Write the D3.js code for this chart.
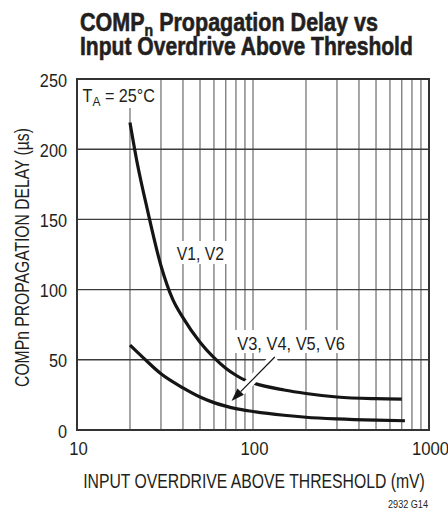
<!DOCTYPE html>
<html>
<head>
<meta charset="utf-8">
<script src="https://cdn.jsdelivr.net/npm/d3@7"></script>
<style>
  html, body { margin: 0; padding: 0; background: #fff; }
  svg { display: block; }
  text { font-family: "Liberation Sans", Arial, Helvetica, sans-serif; fill: #231f20; }
</style>
</head>
<body>
<svg id="chart" width="448" height="513"></svg>
<script>
// ---- data ----
const overdriveV12 = [20, 22, 25, 30, 35, 40, 50, 60, 70, 80, 90, 100, 150, 200, 300, 500, 700];
const delayV12     = [219, 190, 158, 117, 93, 80, 62.5, 51.5, 44, 39, 35.5, 33.5, 28.5, 26, 23.5, 22.3, 22];
const overdriveV36 = [20, 24, 30, 40, 50, 60, 70, 80, 100, 150, 200, 300, 500, 730];
const delayV36     = [60.5, 51, 40, 30, 23.5, 19.5, 17, 15.2, 13.2, 10.5, 9.1, 7.9, 7, 6.6];
const xTickValues  = [10, 100, 1000];
const xTickLabels  = ["10", "100", "1000"];
const xGridValues  = [20, 30, 40, 50, 60, 70, 80, 90, 100, 200, 300, 400, 500, 600, 700, 800, 900];
const yTickValues  = [0, 50, 100, 150, 200, 250];
const yGridValues  = [50, 100, 150, 200];
const seriesLabels = ["V1, V2", "V3, V4, V5, V6"];

const svg = d3.select("#chart");
const pL = 77, pR = 429, pT = 79, pB = 430;
const x = d3.scaleLog().domain([10, 1000]).range([pL, pR]);
const y = d3.scaleLinear().domain([0, 250]).range([pB, pT]);

// helper: draw text and squeeze horizontally to a condensed width
function condensed(parent, opts, build) {
  const g = parent.append("g");
  const t = g.append("text").attr("font-size", opts.size).attr("text-anchor", opts.anchor || "start");
  if (opts.weight) t.attr("font-weight", opts.weight);
  if (opts.stroke) t.attr("stroke", "#231f20").attr("stroke-width", opts.stroke);
  build(t);
  const w = t.node().getComputedTextLength();
  const s = opts.width ? opts.width / w : (opts.scale || 0.82);
  g.attr("transform", `translate(${opts.x},${opts.y})` + (opts.rotate ? ` rotate(${opts.rotate})` : "") + ` scale(${s},1)`);
  return g;
}

// grid
const grid = svg.append("g");
grid.selectAll("line.v").data(xGridValues).join("line")
  .attr("x1", d => x(d)).attr("x2", d => x(d))
  .attr("y1", pT).attr("y2", pB)
  .attr("stroke", "#808080").attr("stroke-width", 1.4);
grid.selectAll("line.h").data(yGridValues).join("line")
  .attr("x1", pL).attr("x2", pR)
  .attr("y1", d => y(d)).attr("y2", d => y(d))
  .attr("stroke", "#3c3c3c").attr("stroke-width", 1.4);

// white label boxes
svg.append("rect").attr("x", pL + 1).attr("y", pT + 1).attr("width", 80).attr("height", 28).attr("fill", "#fff");
svg.append("rect").attr("x", 166).attr("y", 241).attr("width", 64).attr("height", 23).attr("fill", "#fff");
svg.append("rect").attr("x", 232).attr("y", 330).attr("width", 118).attr("height", 23).attr("fill", "#fff");

// curves
const line = d3.line().x(d => x(d[0])).y(d => y(d[1])).curve(d3.curveMonotoneX);
const dataV12 = overdriveV12.map((v, i) => [v, delayV12[i]]);
const dataV36 = overdriveV36.map((v, i) => [v, delayV36[i]]);
svg.append("path").datum(dataV12).attr("d", line)
  .attr("fill", "none").attr("stroke", "#151515").attr("stroke-width", 3.2);
svg.append("path").datum(dataV36).attr("d", line)
  .attr("fill", "none").attr("stroke", "#151515").attr("stroke-width", 3.2);

// arrow with white halo
const a0 = [133, 52], a1 = [75.5, 20.7];
{
  const tx = x(a1[0]), ty = y(a1[1]);
  const sx = x(a0[0]), sy = y(a0[1]);
  const ang = Math.atan2(sy - ty, sx - tx);
  const L = 13, W = 4.5;
  const bx = tx + L * Math.cos(ang), by = ty + L * Math.sin(ang);
  svg.append("line").attr("x1", sx).attr("y1", sy).attr("x2", bx).attr("y2", by)
    .attr("stroke", "#fff").attr("stroke-width", 9);
  svg.append("line").attr("x1", sx).attr("y1", sy).attr("x2", bx).attr("y2", by)
    .attr("stroke", "#151515").attr("stroke-width", 1.2);
  const px = -Math.sin(ang) * W, py = Math.cos(ang) * W;
  svg.append("path").attr("d", `M${tx},${ty}L${bx + px},${by + py}L${bx - px},${by - py}Z`).attr("fill", "#151515");
}

// frame
svg.append("rect").attr("x", pL).attr("y", pT).attr("width", pR - pL).attr("height", pB - pT)
  .attr("fill", "none").attr("stroke", "#333").attr("stroke-width", 2);

// axes (labels only)
const yAxis = d3.axisLeft(y).tickValues(yTickValues).tickSize(0).tickPadding(10);
const gy = svg.append("g").attr("transform", `translate(${pL},0)`).call(yAxis);
gy.select(".domain").remove();
gy.selectAll("text").attr("font-size", 18.5).attr("font-family", null).attr("fill", "#231f20")
  .attr("x", null).attr("text-anchor", "end").attr("dy", "0.38em")
  .attr("transform", "translate(-10,0) scale(0.88,1)");

const xAxis = d3.axisBottom(x).tickValues(xTickValues).tickFormat((d, i) => xTickLabels[i]).tickSize(0).tickPadding(10);
const gx = svg.append("g").attr("transform", `translate(0,${pB})`).call(xAxis);
gx.select(".domain").remove();
gx.selectAll("text").attr("font-size", 19).attr("font-family", null).attr("fill", "#231f20")
  .attr("y", null).attr("dy", null).attr("transform", "translate(1,25) scale(0.88,1)");

// titles
condensed(svg, { x: 80, y: 31, size: 26, weight: "bold", width: 298, stroke: 0.6 }, t => {
  t.append("tspan").text("COMP");
  t.append("tspan").text("n").attr("font-size", 17).attr("dy", 5);
  t.append("tspan").text(" Propagation Delay vs").attr("dy", -5);
});
condensed(svg, { x: 80, y: 55, size: 26, weight: "bold", width: 333, stroke: 0.6 }, t => {
  t.text("Input Overdrive Above Threshold");
});

condensed(svg, { x: 254, y: 488, size: 19.5, anchor: "middle", width: 342 }, t => {
  t.text("INPUT OVERDRIVE ABOVE THRESHOLD (mV)");
});
condensed(svg, { x: 28.5, y: 257.5, size: 19.5, anchor: "middle", width: 259, rotate: -90 }, t => {
  t.text("COMPn PROPAGATION DELAY (µs)");
});
condensed(svg, { x: 428, y: 508, size: 11.5, anchor: "end", width: 40 }, t => t.text("2932 G14"));

// annotations
condensed(svg, { x: 82.5, y: 102, size: 17.5, width: 72.5 }, t => {
  t.append("tspan").text("T");
  t.append("tspan").text("A").attr("font-size", 13).attr("dy", 4);
  t.append("tspan").text(" = 25°C").attr("dy", -4);
});
condensed(svg, { x: 176.7, y: 260, size: 18.5, width: 47.3 }, t => t.text(seriesLabels[0]));
condensed(svg, { x: 237.3, y: 350, size: 18.5, width: 107.7 }, t => t.text(seriesLabels[1]));
</script>
</body>
</html>
